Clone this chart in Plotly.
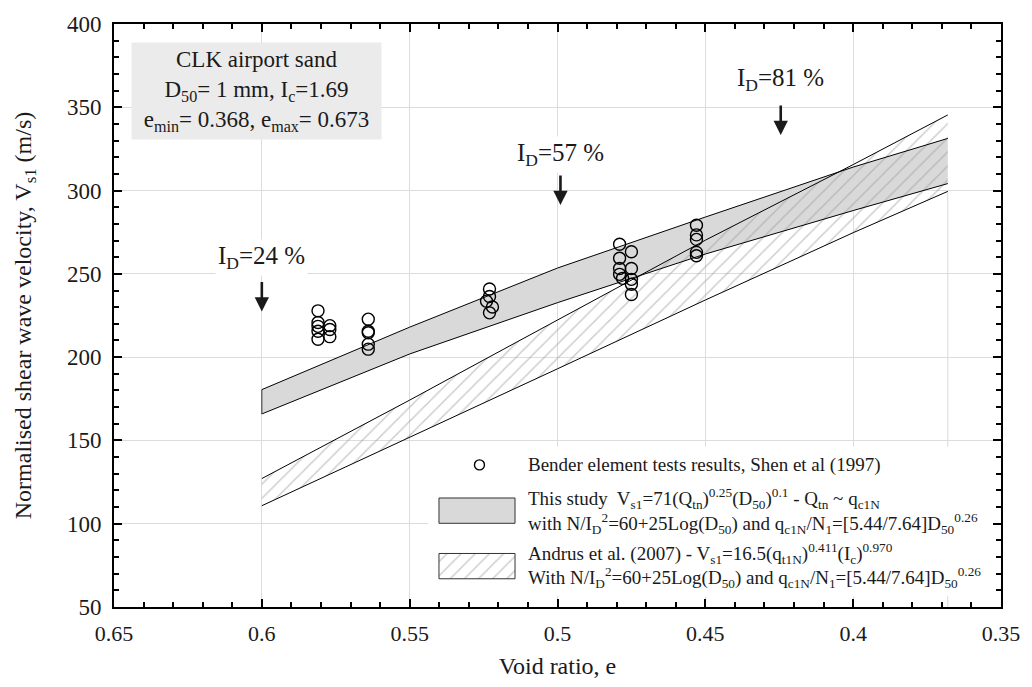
import plotly.graph_objects as go

# ---------------- data ----------------
e_band = [0.600, 0.550, 0.500, 0.450, 0.400, 0.368]
this_upper = [180.5, 218.0, 253.5, 284.1, 314.1, 331.3]
this_lower = [165.9, 201.9, 232.7, 261.9, 288.0, 304.2]
andrus_upper = [127.1, 174.2, 222.3, 270.2, 315.6, 345.4]
andrus_lower = [110.8, 151.8, 193.0, 234.3, 274.7, 299.5]

bender_e = [0.581, 0.581, 0.581, 0.581, 0.581,
            0.577, 0.577, 0.577,
            0.564, 0.564, 0.564, 0.564, 0.564,
            0.523, 0.523, 0.524, 0.522, 0.523,
            0.479, 0.479, 0.479, 0.479, 0.478,
            0.475, 0.475, 0.475, 0.475, 0.475,
            0.453, 0.453, 0.453, 0.453, 0.453]
bender_vs = [227.8, 220.8, 218.5, 215.5, 210.7,
             218.9, 216.6, 212.3,
             222.8, 215.5, 214.6, 207.8, 204.8,
             240.9, 236.4, 233.6, 230.1, 226.6,
             267.8, 259.4, 253.2, 249.7, 247.3,
             263.3, 253.2, 246.7, 243.8, 237.6,
             279.2, 273.4, 270.7, 262.9, 260.9]

id_pct = [24, 57, 81]
id_e = [0.600, 0.499, 0.4245]
id_arrow_tip = [227.4, 291.3, 333.4]
id_text_v = [259.6, 321.7, 366.7]

x_ticks = [0.65, 0.6, 0.55, 0.5, 0.45, 0.4, 0.35]
y_ticks = [50, 100, 150, 200, 250, 300, 350, 400]
e_min = 0.368

# ---------------- layout constants (pixels) ----------------
PL, PT, PR, PB = 114, 16, 1012, 615
FONT = "Liberation Serif"
TXT = "#1a1a1a"
HATCH = "#9a9a9a"

fig = go.Figure()

# gray band (this study)
fig.add_trace(go.Scatter(
    x=e_band + e_band[::-1], y=this_upper + this_lower[::-1],
    fill="toself", fillcolor="#d9d9d9", line=dict(width=0),
    mode="lines", showlegend=False, hoverinfo="skip"))
# hatched band (Andrus)
fig.add_trace(go.Scatter(
    x=e_band + e_band[::-1], y=andrus_upper + andrus_lower[::-1],
    fill="toself", fillcolor="rgba(0,0,0,0)",
    fillpattern=dict(shape="/", fgcolor=HATCH, bgcolor="rgba(0,0,0,0)",
                     size=10, solidity=0.15),
    line=dict(width=0), mode="lines", showlegend=False, hoverinfo="skip"))
# edges
for ys in (this_upper, this_lower, andrus_upper, andrus_lower):
    fig.add_trace(go.Scatter(x=e_band, y=ys, mode="lines",
                             line=dict(color="black", width=1),
                             showlegend=False, hoverinfo="skip"))
fig.add_trace(go.Scatter(x=[e_band[0], e_band[0]], y=[this_lower[0], this_upper[0]],
                         mode="lines", line=dict(color="#333", width=1),
                         showlegend=False, hoverinfo="skip"))
# bender data
fig.add_trace(go.Scatter(x=bender_e, y=bender_vs, mode="markers",
                         marker=dict(symbol="circle-open", size=12, color="black",
                                     line=dict(color="black", width=1.4)),
                         showlegend=False))

# ---------------- manual legend on pixel overlay axes ----------------
LX0, LX1, LY0, LY1 = 432, 1008, 450, 604
fig.add_trace(go.Scatter(x=[LX0, LX1, LX1, LX0, LX0], y=[LY0, LY0, LY1, LY1, LY0],
                         xaxis="x2", yaxis="y2", fill="toself", fillcolor="white",
                         line=dict(width=0), mode="lines", showlegend=False, hoverinfo="skip"))
fig.add_trace(go.Scatter(x=[484], y=[469], xaxis="x2", yaxis="y2", mode="markers",
                         marker=dict(symbol="circle-open", size=10, color="black",
                                     line=dict(color="black", width=1.4)),
                         showlegend=False, hoverinfo="skip"))
sw = [(503, 529), (560, 586)]
fig.add_trace(go.Scatter(x=[443, 520, 520, 443, 443],
                         y=[sw[0][0], sw[0][0], sw[0][1], sw[0][1], sw[0][0]],
                         xaxis="x2", yaxis="y2", fill="toself", fillcolor="#d9d9d9",
                         line=dict(color="#333", width=1), mode="lines",
                         showlegend=False, hoverinfo="skip"))
fig.add_trace(go.Scatter(x=[443, 520, 520, 443, 443],
                         y=[sw[1][0], sw[1][0], sw[1][1], sw[1][1], sw[1][0]],
                         xaxis="x2", yaxis="y2", fill="toself", fillcolor="rgba(0,0,0,0)",
                         fillpattern=dict(shape="/", fgcolor=HATCH, bgcolor="white",
                                          size=10, solidity=0.15),
                         line=dict(color="#333", width=1), mode="lines",
                         showlegend=False, hoverinfo="skip"))

legend_lines = [
    (469, "Bender element tests results, Shen et al (1997)"),
    (504, "This study  V<sub>s1</sub>=71(Q<sub>tn</sub>)<sup>0.25</sup>(D<sub>50</sub>)<sup>0.1</sup> - Q<sub>tn</sub> ~ q<sub>c1N</sub>"),
    (529, "with N/I<sub>D</sub><sup>2</sup>=60+25Log(D<sub>50</sub>) and q<sub>c1N</sub>/N<sub>1</sub>=[5.44/7.64]D<sub>50</sub><sup>0.26</sup>"),
    (560, "Andrus et al. (2007) - V<sub>s1</sub>=16.5(q<sub>t1N</sub>)<sup>0.411</sup>(I<sub>c</sub>)<sup>0.970</sup>"),
    (585, "With N/I<sub>D</sub><sup>2</sup>=60+25Log(D<sub>50</sub>) and q<sub>c1N</sub>/N<sub>1</sub>=[5.44/7.64]D<sub>50</sub><sup>0.26</sup>"),
]
annotations = []
for yy, txt in legend_lines:
    annotations.append(dict(x=531, y=yy, xref="x2", yref="y2", text=txt,
                            showarrow=False, xanchor="left", yanchor="middle",
                            align="left", font=dict(family=FONT, size=19, color=TXT)))

# info box
BX0, BX1, BY0, BY1 = 131, 380, 35, 131
annotations.append(dict(
    x=(BX0 - PL) / (PR - PL), y=1 - (BY0 - PT) / (PB - PT), xref="paper", yref="paper",
    xanchor="left", yanchor="top", showarrow=False, align="center",
    width=BX1 - BX0 - 6, height=BY1 - BY0 - 6, bgcolor="#ebebeb", borderpad=3,
    text="CLK airport sand<br>D<sub>50</sub>= 1 mm, I<sub>c</sub>=1.69<br>"
         "e<sub>min</sub>= 0.368, e<sub>max</sub>= 0.673",
    font=dict(family=FONT, size=23, color=TXT)))

# relative density arrows
for p, ee, tip, tv in zip(id_pct, id_e, id_arrow_tip, id_text_v):
    annotations.append(dict(x=ee, y=tip, xref="x", yref="y", ax=0, ay=-31,
                            text="", showarrow=True, arrowhead=2, arrowsize=1.1,
                            arrowwidth=2.6, arrowcolor=TXT))
    annotations.append(dict(x=ee, y=tv, xref="x", yref="y", showarrow=False,
                            text=f"I<sub>D</sub>={p} %", bgcolor="white", borderpad=2,
                            font=dict(family=FONT, size=25, color=TXT)))

shapes = [dict(type="line", xref="x", yref="y", x0=e_min, x1=e_min,
               y0=y_ticks[0], y1=andrus_lower[-1], layer="below",
               line=dict(color="#d9d9d9", width=1))]

axis_common = dict(showline=True, linecolor="black", linewidth=2, mirror="ticks",
                   ticks="inside", ticklen=8, tickwidth=1.5, tickcolor="black",
                   showgrid=True, gridcolor="#dcdcdc", gridwidth=1, zeroline=False)

fig.update_layout(
    width=1032, height=687,
    margin=dict(l=PL, r=1032 - PR, t=PT, b=687 - PB),
    plot_bgcolor="white", paper_bgcolor="white",
    showlegend=False,
    xaxis=dict(range=[0.65, 0.35], tickvals=x_ticks,
               ticktext=[f"{v:g}" for v in x_ticks],
               minor=dict(dtick=0.01, ticks="inside", ticklen=5, tickcolor="black",
                          showgrid=False),
               tickfont=dict(family=FONT, size=22, color=TXT),
               ticklabelstandoff=6,
               title=dict(text="Void ratio, e", standoff=12,
                          font=dict(family=FONT, size=24, color=TXT)),
               **axis_common),
    yaxis=dict(range=[50, 400], tickvals=y_ticks,
               minor=dict(dtick=10, ticks="inside", ticklen=5, tickcolor="black",
                          showgrid=False),
               tickfont=dict(family=FONT, size=23, color=TXT),
               ticklabelstandoff=6,
               title=dict(text="Normalised shear wave velocity, V<sub>s1</sub> (m/s)",
                          standoff=29, font=dict(family=FONT, size=24, color=TXT)),
               **axis_common),
    xaxis2=dict(overlaying="x", range=[PL, PR], visible=False, fixedrange=True),
    yaxis2=dict(overlaying="y", range=[PB, PT], visible=False, fixedrange=True),
    annotations=annotations, shapes=shapes,
)

fig.write_html("out.html")
